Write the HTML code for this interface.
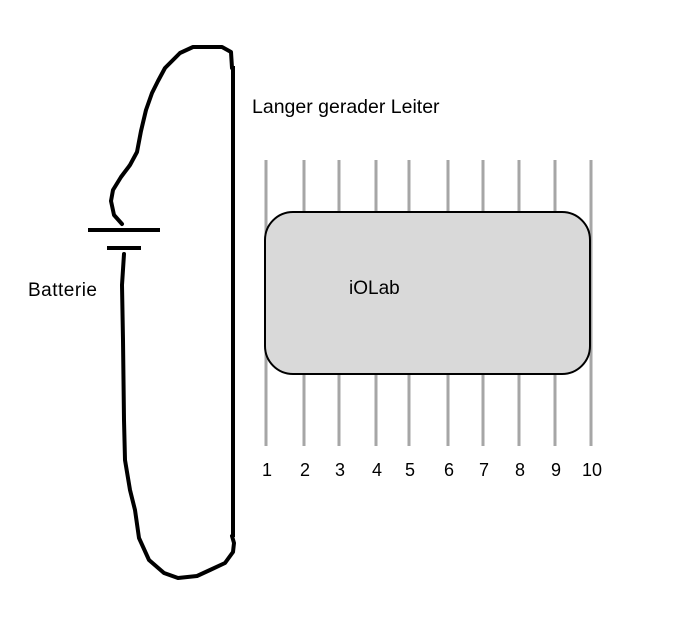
<!DOCTYPE html>
<html><head><meta charset="utf-8"><style>
html,body{margin:0;padding:0;background:#fff;}
svg{display:block;font-family:"Liberation Sans",sans-serif;}
</style></head><body>
<svg width="673" height="621" viewBox="0 0 673 621">
<g id="rods"></g>
<rect x="265" y="212" width="325" height="162" rx="28" ry="28" fill="#d9d9d9" stroke="#000" stroke-width="2"/>
<text x="349" y="294" font-size="19">iOLab</text>
<g id="labels"></g>
<path d="M232,68 L231,52 L222,47 L193,47 L180,53 L165,68 L158,81 L152,93 L146,110 L141,131 L137,152 L130,165 L121,177 L113,190 L111,201 L114,215 L122,224" fill="none" stroke="#000" stroke-width="4" stroke-linejoin="round" stroke-linecap="round"/>
<line x1="233" y1="66" x2="233" y2="537" stroke="#000" stroke-width="4"/>
<line x1="88" y1="230" x2="160" y2="230" stroke="#000" stroke-width="4"/>
<line x1="107" y1="248" x2="141" y2="248" stroke="#000" stroke-width="4"/>
<path d="M124,254 L122,285 L123,340 L124,420 L125,460 L130,490 L135,510 L139,538 L149,560 L164,573 L178,578 L197,576 L210,570 L225,563 L233,552 L234,543 L232,536" fill="none" stroke="#000" stroke-width="4" stroke-linejoin="round" stroke-linecap="round"/>
<text x="252" y="113" font-size="19.5">Langer gerader Leiter</text>
<text x="28" y="296" font-size="19" letter-spacing="0.5">Batterie</text>
</svg>
<script>
const rodLabels=["1","2","3","4","5","6","7","8","9","10"];
const rodX=[266,304,339,376,409,448,483,519,555,591];
const ns="http://www.w3.org/2000/svg";
const rods=document.getElementById('rods'),labels=document.getElementById('labels');
rodLabels.forEach((l,i)=>{
  const ln=document.createElementNS(ns,'line');
  ln.setAttribute('x1',rodX[i]);ln.setAttribute('x2',rodX[i]);
  ln.setAttribute('y1',160);ln.setAttribute('y2',446);
  ln.setAttribute('stroke','#a6a6a6');ln.setAttribute('stroke-width','3');
  
  
  rods.appendChild(ln);
  const t=document.createElementNS(ns,'text');
  t.setAttribute('x',rodX[i]+1);t.setAttribute('y',476);
  t.setAttribute('text-anchor','middle');t.setAttribute('font-size','18');
  t.textContent=l;
  
  
  labels.appendChild(t);
});
</script>
</body></html>
